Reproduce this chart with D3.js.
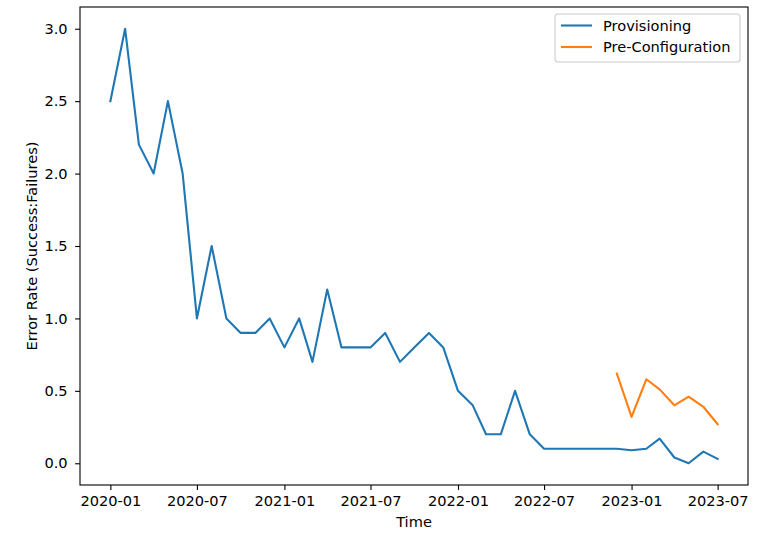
<!DOCTYPE html>
<html>
<head>
<meta charset="utf-8">
<script src="https://cdn.jsdelivr.net/npm/d3@7"></script>
<style>
  body { margin: 0; background: #fff; }
  svg text { font-family: "DejaVu Sans", sans-serif; fill: #000; }
</style>
</head>
<body>
<div id="chart"></div>
<script>
// monthly dates
const provMonths = ['2020-01','2020-02','2020-03','2020-04','2020-05','2020-06','2020-07','2020-08','2020-09','2020-10','2020-11','2020-12',
  '2021-01','2021-02','2021-03','2021-04','2021-05','2021-06','2021-07','2021-08','2021-09','2021-10','2021-11','2021-12',
  '2022-01','2022-02','2022-03','2022-04','2022-05','2022-06','2022-07','2022-08','2022-09','2022-10','2022-11','2022-12',
  '2023-01','2023-02','2023-03','2023-04','2023-05','2023-06','2023-07'];
const provValues = [2.5, 3.0, 2.2, 2.0, 2.5, 2.0, 1.0, 1.5, 1.0, 0.9, 0.9, 1.0,
  0.8, 1.0, 0.7, 1.2, 0.8, 0.8, 0.8, 0.9, 0.7, 0.8, 0.9, 0.8,
  0.5, 0.4, 0.2, 0.2, 0.5, 0.2, 0.1, 0.1, 0.1, 0.1, 0.1, 0.1,
  0.09, 0.1, 0.17, 0.04, 0.0, 0.08, 0.03];
const preMonths = ['2022-12','2023-01','2023-02','2023-03','2023-04','2023-05','2023-06','2023-07'];
const preValues = [0.62, 0.32, 0.58, 0.51, 0.40, 0.46, 0.39, 0.27];

const xTickLabels = ['2020-01','2020-07','2021-01','2021-07','2022-01','2022-07','2023-01','2023-07'];
const yTicks = [0.0, 0.5, 1.0, 1.5, 2.0, 2.5, 3.0];
const seriesNames = ['Provisioning', 'Pre-Configuration'];
const seriesColors = ['#1f77b4', '#ff7f0e'];

const W = 763, H = 535;
const margin = { top: 7, right: 15, bottom: 50, left: 80 };
const width = W - margin.left - margin.right;
const height = H - margin.top - margin.bottom;
const fs = 14.6;

const parse = d3.utcParse('%Y-%m');
const provData = provMonths.map((m, i) => ({ t: parse(m), v: provValues[i] }));
const preData = preMonths.map((m, i) => ({ t: parse(m), v: preValues[i] }));

const svg = d3.select('#chart').append('svg').attr('width', W).attr('height', H);
const g = svg.append('g').attr('transform', `translate(${margin.left},${margin.top})`);

// 5% margins like matplotlib
const t0 = parse('2020-01'), t1 = parse('2023-07');
const span = t1 - t0;
const x = d3.scaleUtc().domain([new Date(+t0 - span * 0.05), new Date(+t1 + span * 0.05)]).range([0, width]);
const y = d3.scaleLinear().domain([-0.15, 3.15]).range([height, 0]);

const line = d3.line().x(d => x(d.t)).y(d => y(d.v));

[provData, preData].forEach((data, i) => {
  g.append('path')
    .datum(data)
    .attr('d', line)
    .attr('fill', 'none')
    .attr('stroke', seriesColors[i])
    .attr('stroke-width', 2.1)
    .attr('stroke-linejoin', 'round')
    .attr('stroke-linecap', 'square');
});

// axes
const xAxis = d3.axisBottom(x)
  .tickValues(xTickLabels.map(parse))
  .tickFormat(d3.utcFormat('%Y-%m'))
  .tickSize(4.9).tickPadding(6);
const gx = g.append('g').attr('transform', `translate(0,${height})`).call(xAxis);
gx.select('.domain').remove();
gx.selectAll('line').attr('stroke', '#000').attr('stroke-width', 1.1);
gx.selectAll('text').style('font-size', fs + 'px').attr('fill', '#000');

const yAxis = d3.axisLeft(y).tickValues(yTicks).tickFormat(d3.format('.1f'))
  .tickSize(4.9).tickPadding(7.5);
const gy = g.append('g').call(yAxis);
gy.select('.domain').remove();
gy.selectAll('line').attr('stroke', '#000').attr('stroke-width', 1.1);
gy.selectAll('text').style('font-size', fs + 'px').attr('fill', '#000');

// frame
g.append('rect').attr('width', width).attr('height', height)
  .attr('fill', 'none').attr('stroke', '#000').attr('stroke-width', 1.1);

// axis labels
svg.append('text').attr('x', margin.left + width / 2).attr('y', 527)
  .attr('text-anchor', 'middle').style('font-size', fs + 'px').text('Time');
svg.append('text')
  .attr('transform', `translate(37,${margin.top + height / 2}) rotate(-90)`)
  .attr('text-anchor', 'middle').style('font-size', fs + 'px')
  .text('Error Rate (Success:Failures)');

// legend
const lg = svg.append('g').attr('transform', 'translate(555,14)');
lg.append('rect').attr('width', 185).attr('height', 48).attr('rx', 3)
  .attr('fill', '#fff').attr('fill-opacity', 0.8)
  .attr('stroke', '#ccc').attr('stroke-width', 1.1);
seriesNames.forEach((name, i) => {
  const yy = 11.5 + i * 21.5;
  lg.append('line').attr('x1', 6).attr('x2', 37).attr('y1', yy).attr('y2', yy)
    .attr('stroke', seriesColors[i]).attr('stroke-width', 2.1);
  lg.append('text').attr('x', 48).attr('y', yy).attr('dy', '0.35em')
    .style('font-size', fs + 'px').text(name);
});
</script>
</body>
</html>
